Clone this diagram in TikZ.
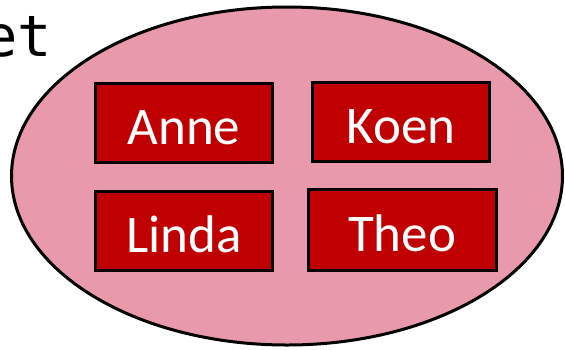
\documentclass[tikz,border=0pt]{standalone}
\usepackage{fontspec}
\usetikzlibrary{shapes.geometric}
\setmainfont{Carlito}
\newfontfamily\monofont{DejaVu Sans Mono}
\definecolor{setpink}{HTML}{E899AB}
\definecolor{boxred}{HTML}{C00000}
\begin{document}
\begin{tikzpicture}[x=1pt,y=-1pt,
  person/.style={draw=black,line width=3pt,fill=boxred,text=white,
    font=\fontsize{53}{60}\selectfont,inner sep=0pt,text height=42pt,text depth=0pt}]
\useasboundingbox (0,0) rectangle (565,349);
\node[anchor=base west,inner sep=0pt,font=\monofont\fontsize{57}{60}\selectfont] (lbl) at (-17,56) {et};
\node[ellipse,draw=black,line width=3pt,fill=setpink,minimum width=551pt,minimum height=338pt,inner sep=0pt] (set) at (287,176) {};
\node[person,minimum width=177pt,minimum height=79pt] (anne) at (184,123) {Anne};
\node[person,minimum width=177pt,minimum height=79pt] (koen) at (401,122) {Koen};
\node[person,minimum width=177pt,minimum height=79pt] (linda) at (184,231) {Linda};
\node[person,minimum width=188pt,minimum height=81pt] (theo) at (402,230) {Theo};
\end{tikzpicture}
\end{document}
